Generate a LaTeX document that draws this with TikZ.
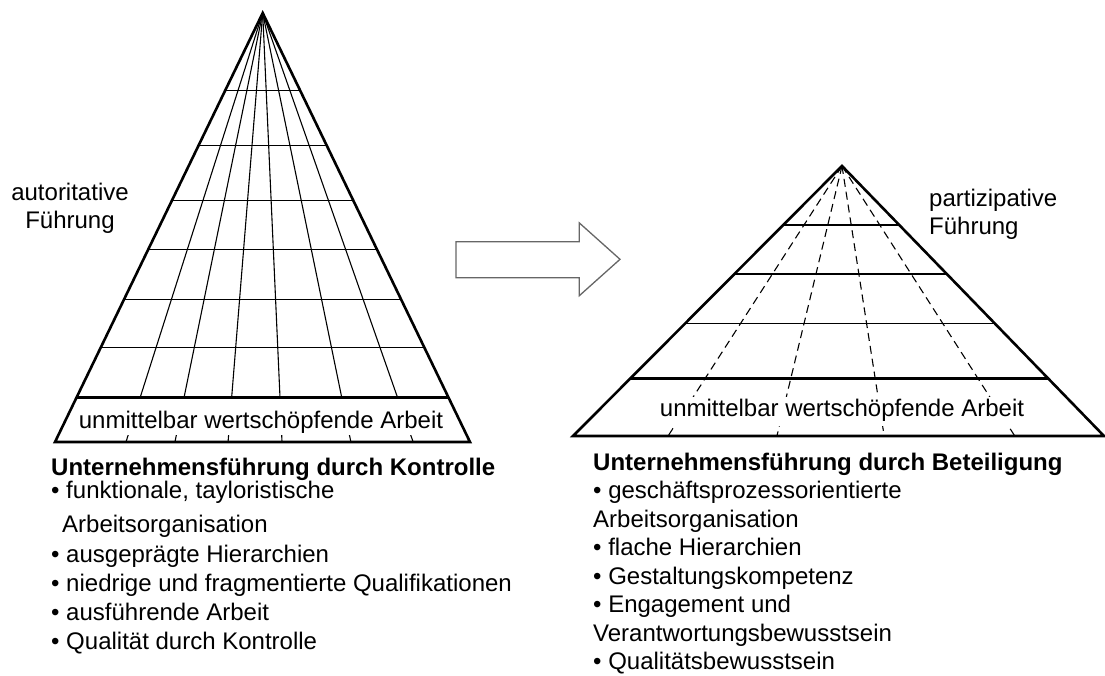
\documentclass[tikz,border=0pt]{standalone}
\usepackage{fontspec}
\setmainfont{Liberation Sans}
\usetikzlibrary{calc,positioning}

\begin{document}
\begin{tikzpicture}[x=1pt,y=-1pt,
    pyredge/.style={line width=2.6pt,line join=miter},
    gridline/.style={line width=1.1pt},
    dashline/.style={line width=1.1pt,dash pattern=on 8pt off 5pt},
    txt/.style={font=\fontsize{24}{29}\selectfont,inner sep=0pt}]
    \useasboundingbox (0,0) rectangle (1105,675);

    % left pyramid
    \coordinate (la) at (262.7,13);
    \coordinate (lbl) at (55,442);
    \coordinate (lbr) at (470,442);
    \foreach \f in {0.171,0.289,0.417,0.547,0.713,0.863}
        \draw[gridline] (la) -- ($(lbl)!\f!(lbr)$);
    \foreach \t in {0.181,0.309,0.437,0.551,0.667,0.780}
        \draw[gridline] ($(la)!\t!(lbl)$) -- ($(la)!\t!(lbr)$);
    \node[txt,fill=white,anchor=base,text height=28.5pt,text depth=6pt,inner sep=1pt] (lwork) at (261,428) {unmittelbar wertschöpfende Arbeit};
    \draw[pyredge] ($(la)!0.896!(lbl)$) -- ($(la)!0.896!(lbr)$);
    \draw[pyredge] (la) -- (lbl) -- (lbr) -- cycle;

    % right pyramid
    \coordinate (ra) at (842,166);
    \coordinate (rbl) at (573,436);
    \coordinate (rbr) at (1104,436);
    \foreach \f in {0.179,0.384,0.586,0.832}
        \draw[dashline] (ra) -- ($(rbl)!\f!(rbr)$);
    \foreach \t in {0.2185,0.4,0.583}
        \draw[gridline] ($(ra)!\t!(rbl)$) -- ($(ra)!\t!(rbr)$);
    \node[txt,fill=white,anchor=base,text height=18.7pt,text depth=8.3pt,inner sep=1pt] (rwork) at (842,416.7) {unmittelbar wertschöpfende Arbeit};
    \draw[pyredge] ($(ra)!0.786!(rbl)$) -- ($(ra)!0.786!(rbr)$);
    \draw[pyredge] (ra) -- (rbl) -- (rbr) -- cycle;

    % arrow
    \draw[black!60,line width=1.3pt] (456,241.7) -- (579.3,241.7) -- (579.3,222.9) -- (620,259.3)
        -- (579.3,295.7) -- (579.3,277.7) -- (456,277.7) -- cycle;

    % labels
    \node[txt,align=center,anchor=north,font=\fontsize{24}{27.5}\selectfont] (lstyle) at (70,183) {autoritative\\Führung};
    \node[txt,align=left,anchor=north west,font=\fontsize{24}{27.5}\selectfont] (rstyle) at (929,189) {partizipative\\Führung};

    \node[txt,align=left,anchor=north west] (ltext) at (51,457.5) {%
        \textbf{Unternehmensführung durch Kontrolle}\\[-6pt]
        • funktionale, tayloristische\\[5pt]
        \hspace*{11pt}Arbeitsorganisation\\[1pt]
        • ausgeprägte Hierarchien\\
        • niedrige und fragmentierte Qualifikationen\\
        • ausführende Arbeit\\
        • Qualität durch Kontrolle};
    \node[txt,align=left,anchor=north west,font=\fontsize{24}{28.5}\selectfont] (rtext) at (593,452.5) {%
        \textbf{Unternehmensführung durch Beteiligung}\\
        • geschäftsprozessorientierte\\
        Arbeitsorganisation\\
        • flache Hierarchien\\
        • Gestaltungskompetenz\\
        • Engagement und\\
        Verantwortungsbewusstsein\\
        • Qualitätsbewusstsein};
\end{tikzpicture}
\end{document}
